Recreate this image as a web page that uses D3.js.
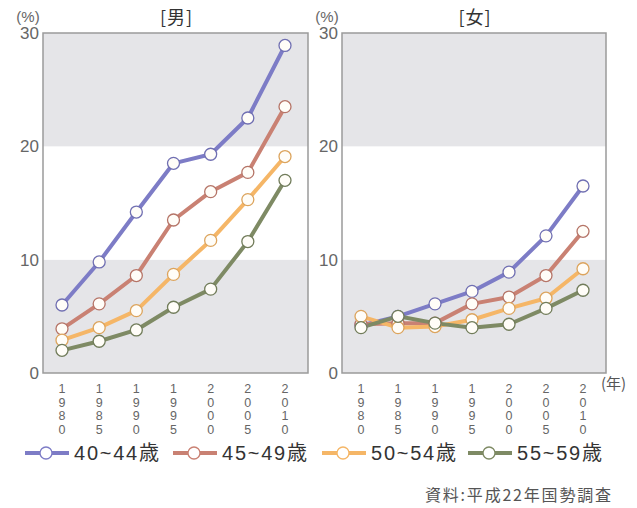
<!DOCTYPE html>
<html><head><meta charset="utf-8">
<script src="https://cdn.jsdelivr.net/npm/d3@7"></script>
<style>body{margin:0;background:#fff}svg{display:block}text{font-family:"Noto Sans CJK JP","Noto Sans",sans-serif}</style>
</head><body>
<script>
const years = [1980, 1985, 1990, 1995, 2000, 2005, 2010];
const seriesNames = ["40~44歳", "45~49歳", "50~54歳", "55~59歳"];
const seriesColors = ["#7d7cc6", "#c98173", "#f5b667", "#7e8a64"];
const male40 = [6.0, 9.8, 14.2, 18.5, 19.3, 22.5, 28.9];
const male45 = [3.9, 6.1, 8.6, 13.5, 16.0, 17.7, 23.5];
const male50 = [2.9, 4.0, 5.5, 8.7, 11.7, 15.3, 19.1];
const male55 = [2.0, 2.8, 3.8, 5.8, 7.4, 11.6, 17.0];
const female40 = [4.2, 5.0, 6.1, 7.2, 8.9, 12.1, 16.5];
const female45 = [4.3, 4.4, 4.4, 6.1, 6.7, 8.6, 12.5];
const female50 = [5.0, 4.0, 4.1, 4.7, 5.7, 6.6, 9.2];
const female55 = [4.0, 5.0, 4.4, 4.0, 4.3, 5.7, 7.3];
const yTicks = [0, 10, 20, 30];
const panelTitles = ["[男]", "[女]"];
const sourceText = "資料:平成22年国勢調査";

const W = 637, H = 508;
const svg = d3.select("body").append("svg").attr("width", W).attr("height", H);

const panels = [
  {title: panelTitles[0], left: 43, right: 308, data: [male40, male45, male50, male55]},
  {title: panelTitles[1], left: 342, right: 606, data: [female40, female45, female50, female55]}
];
const plotTop = 33, plotBottom = 373;
const y = d3.scaleLinear().domain([0, 30]).range([plotBottom, plotTop]);
const latin = "Liberation Sans, Arial, sans-serif";

panels.forEach((p, pi) => {
  const g = svg.append("g");
  const x = d3.scalePoint().domain(years).range([p.left + 19, p.right - 23]);
  [[0, 10, "#e5e5e8"], [10, 20, "#ffffff"], [20, 30, "#e5e5e8"]].forEach(b => {
    g.append("rect").attr("x", p.left).attr("width", p.right - p.left)
      .attr("y", y(b[1])).attr("height", y(b[0]) - y(b[1])).attr("fill", b[2]);
  });
  g.append("rect").attr("x", p.left).attr("y", plotTop).attr("width", p.right - p.left)
    .attr("height", plotBottom - plotTop).attr("fill", "none").attr("stroke", "#9a9a9a").attr("stroke-width", 1.5);
  g.selectAll(".yt").data(yTicks).enter().append("text")
    .attr("x", p.left - 4).attr("y", d => y(d)).attr("dy", "0.36em")
    .attr("text-anchor", "end").attr("font-size", 17).attr("fill", "#666")
    .style("font-family", latin).text(d => d);
  g.append("text").attr("x", p.left - 15).attr("y", 17).attr("dy", "0.36em").attr("text-anchor", "middle")
    .attr("font-size", 15).attr("fill", "#666").style("font-family", latin).text("(%)");
  g.append("text").attr("x", (p.left + p.right) / 2 + 1).attr("y", 18).attr("dy", "0.36em").attr("text-anchor", "middle")
    .attr("font-size", 18).attr("letter-spacing", 1).attr("fill", "#333").text(p.title);
  g.selectAll(".xt").data(years).enter().append("text")
    .attr("x", d => x(d)).attr("y", 382)
    .attr("font-size", 12.5).attr("fill", "#666")
    .style("font-family", latin)
    .style("writing-mode", "vertical-rl").style("text-orientation", "upright")
    .attr("letter-spacing", -0.5)
    .text(d => String(d));
  if (pi === 1) {
    g.append("text").attr("x", p.right - 5).attr("y", 384).attr("dy", "0.36em").attr("font-size", 15).attr("fill", "#555").text("(年)");
  }
  const line = d3.line().x((d, i) => x(years[i])).y(d => y(d));
  p.data.forEach((s, si) => {
    g.append("path").datum(s).attr("d", line).attr("fill", "none")
      .attr("stroke", seriesColors[si]).attr("stroke-width", 4).attr("stroke-linejoin", "round");
  });
  p.data.forEach((s, si) => {
    g.selectAll(".c" + si).data(s).enter().append("circle")
      .attr("cx", (d, i) => x(years[i])).attr("cy", d => y(d)).attr("r", 6)
      .attr("fill", "#fffdf8").attr("stroke", d3.color(seriesColors[si]).darker(0.3)).attr("stroke-width", 1.3);
  });
});

const legendX = [25, 173, 322, 468];
const lg = svg.append("g");
seriesNames.forEach((n, i) => {
  const lx = legendX[i], ly = 453;
  lg.append("line").attr("x1", lx).attr("x2", lx + 44).attr("y1", ly).attr("y2", ly)
    .attr("stroke", seriesColors[i]).attr("stroke-width", 4);
  lg.append("circle").attr("cx", lx + 21).attr("cy", ly).attr("r", 6)
    .attr("fill", "#fff").attr("stroke", seriesColors[i]).attr("stroke-width", 1.3);
  lg.append("text").attr("x", lx + 49).attr("y", ly).attr("dy", "0.36em")
    .attr("font-size", 20).attr("fill", "#333").style("font-family", "Liberation Sans, 'Noto Sans CJK JP', sans-serif")
    .attr("textLength", 85).attr("lengthAdjust", "spacing").text(n);
});
svg.append("text").attr("x", 425).attr("y", 495).attr("dy", "0.36em")
  .attr("font-size", 16).attr("fill", "#555").attr("textLength", 186).attr("lengthAdjust", "spacing").text(sourceText);
</script>
</body></html>
